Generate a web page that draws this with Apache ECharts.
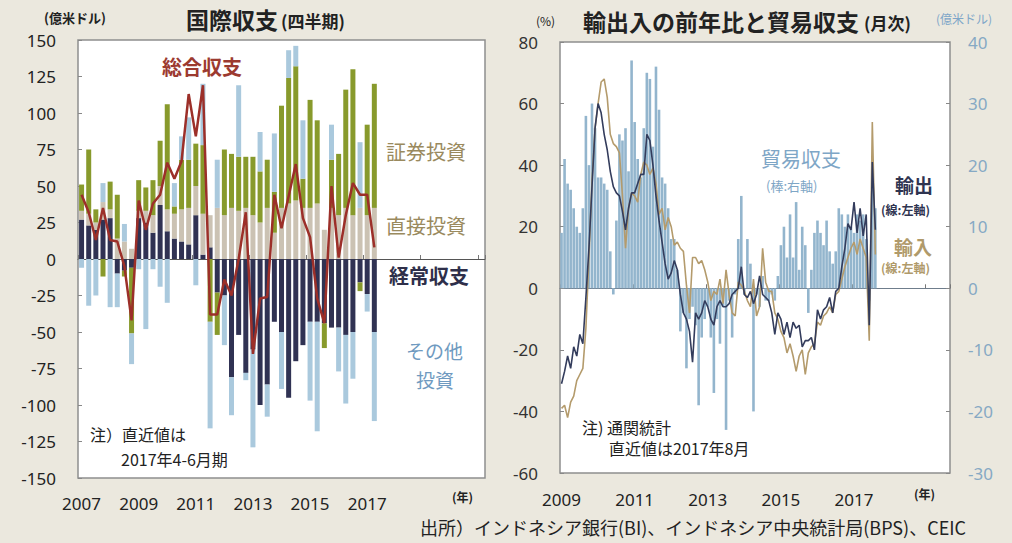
<!DOCTYPE html>
<html>
<head>
<meta charset="utf-8">
<script src="https://cdn.jsdelivr.net/npm/echarts@6/dist/echarts.min.js"></script>
<style>
  html, body { margin: 0; padding: 0; background: #ebe8de; }
  #chart { width: 1012px; height: 543px; }
</style>
</head>
<body>
<div id="chart"></div>
<script>
// 国際収支（四半期, 億米ドル）2007Q1〜2017Q2
const currentAccount = [27, 23, 20, 27, 28, -10, -8, -6, 28, 25, 18, 37, 19, 14, 12, 10, 30, 3, 8, -23, -25, -81, -52, -78, -62, -100, -86, -43, -50, -95, -70, -59, -43, -43, -44, -47, -47, -52, -50, -16, -24, -50];
const directInv = [6, 8, 5, 12, 6, 14, 12, 7, 5, 8, 12, 13, 15, 17, 22, 25, 20, 28, 22, 35, 30, 35, 33, 35, 30, 25, 35, 18, 35, 38, 40, 35, 35, 38, 20, 35, 30, 35, 30, 35, 30, 35];
const portfolioInv = [18, 44, 9, -12, 19, 30, -4, -45, 21, 16, 24, 31, 72, 5, 34, 33, 29, 47, -43, -29, 45, 37, 37, 35, 40, 35, 33, 28, 70, 86, 92, 20, 74, 57, -17, 33, 42, 81, 100, -6, 62, 85];
const otherInv = [-6, -32, -25, 13, -33, -23, 12, -21, -7, -48, -7, -19, -30, 16, 16, 29, -18, 42, -73, 33, -34, -26, 49, -5, -67, 27, -22, 40, -39, 19, 14, 40, -54, -75, 0, 24, -30, -47, -32, 45, -12, -61];
const overallBalance = [44, 32, 13, 35, 13, 12, -5, -42, 40, 20, 38, 44, 66, 55, 67, 113, 84, 119, -38, -38, -14, -25, 0, 32, -65, -27, -26, 44, 21, 43, 65, 28, 15, -27, -44, 50, 1, 30, 52, 44, 44, 8];

// 輸出入の前年比（%）と貿易収支（億米ドル）2009年1月〜2017年8月
const exportsYoY = [
  -31, -27, -22, -26, -19, -22, -15, -18, -3, 13, 33, 52,
  60, 57, 50, 45, 38, 33, 31, 30, 25, 19, 26, 31,
  31, 34, 37, 37, 50, 48, 40, 30, 22, 15, 8, 3,
  5, 9, 6, -2, -8, -10, -14, -24, -8, -10, -8, -4,
  -6, -10, -12, -6, -4, -6, -6, -5, -2, -1, 0, 7,
  -2, -3, -1, -5, -2, 4, -2, -3, -4, -8, -15, -8,
  -10, -15, -11, -16, -11, -13, -12, -19, -17, -17, -16, -20,
  -7, -10, -7, -6, -3, -8, -1, 0, 7, 13, 21, 19,
  28, 18, 26, 17, 24, -12, 41, 19
];
const importsYoY = [
  -39, -38, -42, -37, -35, -30, -28, -26, -13, 10, 35, 52,
  60, 67, 68, 62, 50, 47, 46, 44, 30, 13, 26, 31,
  30, 28, 37, 41, 40, 37, 39, 34, 24, 26, 19, 23,
  20, 14, 15, 13, 12, 1, -8, 10, 10, 8, 9, 6,
  2, -4, -1, -2, 3, -5, 6, -2, -8, -9, 2, 1,
  -1, -4, -6, 3, -9, -6, 13, 2, -1, -1, -8, -10,
  -14, -16, -21, -18, -22, -27, -22, -20, -28, -21, -19, -18,
  -11, -12, -9, -8, -6, -8, -2, -1, 3, 7, 10, 13,
  15, 11, 16, 13, 10, -17, 54, 11
];
const tradeBalance = [
  9, 21, 17, 16, 13, 10, 9, 13, 28, 20, 30, 26,
  18, 18, 17, 16, 6, -1, 11, 25, 24, 26, 19, 37,
  27, 21, 18, 26, 35, 34, 23, 36, 29, 18, 17, 13,
  8, 8, 3, -7, -4, -13, -5, -3, -6, -19, -8, -5,
  -3, -8, -17, -5, -9, -3, -23, -2, -8, -1, 8, 15,
  -1, 8, 4, -20, -1, -3, 2, -2, -2, -1, -2, 2,
  7, 10, 5, 12, 5, 14, 3, 10, 7, -4, 3, 9,
  11, 9, 7, 11, 6, 4, 6, 13, 12, 10, 12, 10,
  9, 12, 11, 12, 8, -2, 17, 13
];

// 軸のカテゴリ（右端まで余白を持たせる）
const quarters = [];
for (let y = 2007; quarters.length < 57; y++) {
  for (let q = 1; q <= 4 && quarters.length < 57; q++) quarters.push(y + 'Q' + q);
}
const months = [];
for (let y = 2009; months.length < 128; y++) {
  for (let m = 1; m <= 12 && months.length < 128; m++) months.push(y + '-' + String(m).padStart(2, '0'));
}

const JP = '"Noto Sans CJK JP", "Noto Sans", sans-serif';
const NUM = '"Noto Sans", "Noto Sans CJK JP", sans-serif';

const chart = echarts.init(document.getElementById('chart'), null, { renderer: 'svg' });

const txt = (text, left, top, size, color, weight) => ({
  type: 'text', left, top,
  style: { text, fill: color, font: (weight || 'normal') + ' ' + size + 'px ' + JP }
});

const option = {
  backgroundColor: '#ebe8de',
  animation: false,
  grid: [
    { left: 78, top: 40, width: 407, height: 438, show: true, backgroundColor: '#fff', borderColor: '#8f8f8f', borderWidth: 1.5 },
    { left: 560, top: 42, width: 390, height: 431, show: true, backgroundColor: '#fff', borderColor: '#8f8f8f', borderWidth: 1.5 }
  ],
  xAxis: [
    {
      type: 'category', gridIndex: 0, data: quarters, position: 'bottom',
      axisLine: { onZero: true, lineStyle: { color: '#555', width: 1 } },
      axisTick: { show: true, inside: true, interval: 7, length: 4, lineStyle: { color: '#777' } },
      axisLabel: { show: false }
    },
    {
      type: 'category', gridIndex: 0, data: quarters, position: 'bottom',
      axisLine: { show: false, onZero: false }, axisTick: { show: false },
      axisLabel: {
        interval: (i) => i % 8 === 0 && i <= 40,
        formatter: (v) => v.slice(0, 4),
        margin: 17, fontSize: 17, color: '#222', fontFamily: NUM
      }
    },
    {
      type: 'category', gridIndex: 1, data: months, position: 'bottom',
      axisLine: { onZero: true, onZeroAxisIndex: 1, lineStyle: { color: '#6f7d8c', width: 1 } },
      axisTick: { show: true, inside: true, interval: 23, length: 4, lineStyle: { color: '#777' } },
      axisLabel: { show: false }
    },
    {
      type: 'category', gridIndex: 1, data: months, position: 'bottom',
      axisLine: { show: false, onZero: false }, axisTick: { show: false },
      axisLabel: {
        interval: (i) => i % 24 === 0 && i <= 96,
        formatter: (v) => v.slice(0, 4),
        margin: 18, fontSize: 17, color: '#222', fontFamily: NUM
      }
    }
  ],
  yAxis: [
    {
      type: 'value', gridIndex: 0, min: -150, max: 150, interval: 25,
      axisLine: { show: false }, splitLine: { show: false },
      axisTick: { show: true, inside: true, length: 4, lineStyle: { color: '#888' } },
      axisLabel: { fontSize: 17, color: '#222', margin: 22, fontFamily: NUM }
    },
    {
      type: 'value', gridIndex: 1, min: -60, max: 80, interval: 20, position: 'left',
      axisLine: { show: false }, splitLine: { show: false },
      axisTick: { show: true, inside: true, length: 4, lineStyle: { color: '#888' } },
      axisLabel: { fontSize: 17, color: '#333', margin: 22, fontFamily: NUM }
    },
    {
      type: 'value', gridIndex: 1, min: -30, max: 40, interval: 10, position: 'right',
      axisLine: { show: false }, splitLine: { show: false },
      axisTick: { show: true, inside: true, length: 4, lineStyle: { color: '#888' } },
      axisLabel: { fontSize: 17, color: '#86a9c4', margin: 18, fontFamily: NUM }
    }
  ],
  series: [
    { name: '経常収支', type: 'bar', stack: 'bop', xAxisIndex: 0, yAxisIndex: 0, barWidth: 5, data: currentAccount, itemStyle: { color: '#303253' } },
    { name: '直接投資', type: 'bar', stack: 'bop', xAxisIndex: 0, yAxisIndex: 0, barWidth: 5, data: directInv, itemStyle: { color: '#cbc2b3' } },
    { name: '証券投資', type: 'bar', stack: 'bop', xAxisIndex: 0, yAxisIndex: 0, barWidth: 5, data: portfolioInv, itemStyle: { color: '#889a2c' } },
    { name: 'その他投資', type: 'bar', stack: 'bop', xAxisIndex: 0, yAxisIndex: 0, barWidth: 5, data: otherInv, itemStyle: { color: '#aac9dd' } },
    { name: '総合収支', type: 'line', xAxisIndex: 0, yAxisIndex: 0, data: overallBalance, symbol: 'none', z: 5, lineStyle: { color: '#9c2f29', width: 2.5 } },

    { name: '貿易収支', type: 'bar', xAxisIndex: 2, yAxisIndex: 2, barWidth: 2.6, data: tradeBalance, itemStyle: { color: '#93b5cd' } },
    { name: '輸入', type: 'line', xAxisIndex: 2, yAxisIndex: 1, data: importsYoY, symbol: 'none', z: 4, lineStyle: { color: '#b49b6c', width: 1.6 } },
    { name: '輸出', type: 'line', xAxisIndex: 2, yAxisIndex: 1, data: exportsYoY, symbol: 'none', z: 5, lineStyle: { color: '#333c5c', width: 1.6 } }
  ],
  graphic: [
    txt('(億米ドル)', 44, 11, 13, '#222', 'bold'),
    txt('国際収支', 186, 7, 23, '#222', 'bold'),
    txt('(四半期)', 281, 12, 17, '#222', 'bold'),
    txt('総合収支', 162, 56, 20, '#9c3a30', 'bold'),
    txt('証券投資', 386, 141, 20, '#9a8a5e'),
    txt('直接投資', 386, 215, 20, '#9a8a5e'),
    txt('経常収支', 389, 265, 20, '#2e2f4a', 'bold'),
    txt('その他', 406, 341, 19, '#6f9ac0'),
    txt('投資', 416, 370, 19, '#6f9ac0'),
    txt('注）直近値は', 90, 426, 16, '#222'),
    txt('2017年4-6月期', 121, 451, 16, '#222'),
    txt('(年)', 452, 490, 12, '#222', 'bold'),

    txt('(%)', 536, 14, 12, '#222'),
    txt('輸出入の前年比と貿易収支', 583, 9, 23, '#222', 'bold'),
    txt('(月次)', 864, 14, 17, '#222', 'bold'),
    txt('(億米ドル)', 936, 12, 12, '#7fa6c8'),
    txt('貿易収支', 761, 148, 20, '#7ea6c6'),
    txt('(棒:右軸)', 766, 179, 13, '#7ea6c6'),
    txt('輸出', 895, 175, 19, '#2f3450', 'bold'),
    txt('(線:左軸)', 881, 203, 12, '#2f3450', 'bold'),
    txt('輸入', 894, 237, 19, '#b09a6a', 'bold'),
    txt('(線:左軸)', 881, 261, 12, '#b09a6a', 'bold'),
    txt('注) 通関統計', 582, 419, 16, '#222'),
    txt('直近値は2017年8月', 609, 440, 16, '#222'),
    txt('(年)', 914, 487, 12, '#222', 'bold'),

    txt('出所）インドネシア銀行(BI)、インドネシア中央統計局(BPS)、CEIC', 420, 518, 18, '#222')
  ]
};

chart.setOption(option);
</script>
</body>
</html>
